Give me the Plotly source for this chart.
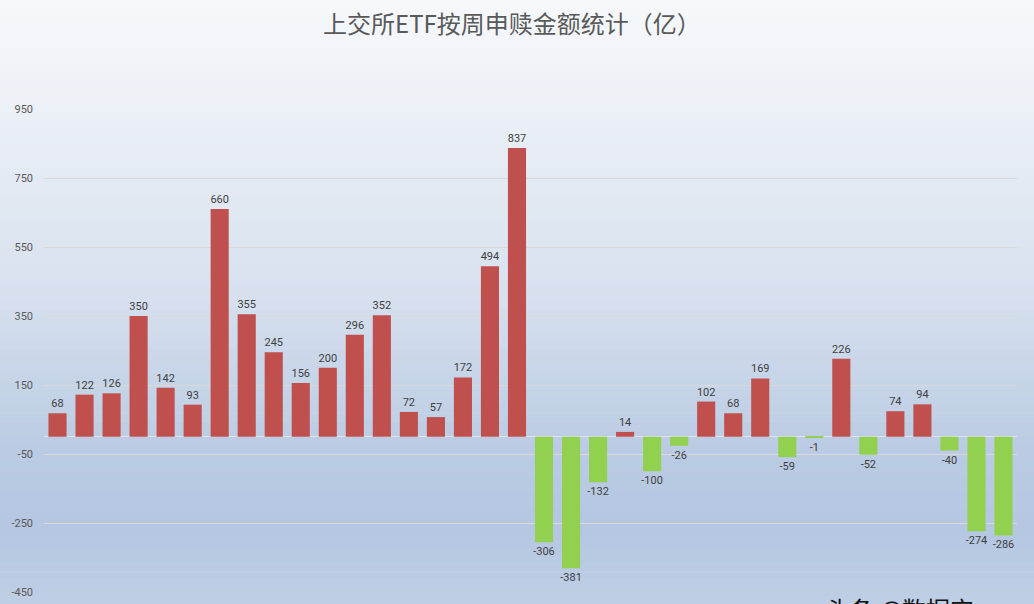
import plotly.graph_objects as go

# ---- data ----
weeks = [f"W{i+1}" for i in range(36)]
values = [68, 122, 126, 350, 142, 93, 660, 355, 245, 156, 200, 296, 352, 72, 57, 172, 494, 837,
          -306, -381, -132, 14, -100, -26, 102, 68, 169, -59, -1, 226, -52, 74, 94, -40, -274, -286]
tick_vals = [950, 750, 550, 350, 150, -50, -250, -450]
title_text = "上交所ETF按周申赎金额统计（亿）"
watermark = "头条 @数据宝"

POS = "#C0504D"
NEG = "#92D050"
colors = [POS if v >= 0 else NEG for v in values]

W, H = 1034, 604
L, R, T, B = 44, 17, 109, 12
pw, ph = W - L - R, H - T - B

fig = go.Figure()
fig.add_trace(go.Bar(
    x=weeks, y=values,
    marker=dict(color=colors, line=dict(width=0)),
    text=[str(v) for v in values],
    textposition="outside",
    constraintext="none",
    textfont=dict(family="Roboto, Arial", size=11, color="#404040"),
    cliponaxis=False,
    hoverinfo="x+y",
))

# background gradient (styling)
stops = [(0, (246, 248, 251)), (100, (237, 241, 247)), (300, (214, 224, 238)),
         (450, (186, 203, 227)), (530, (181, 199, 225)), (604, (190, 206, 229))]

def col_at(py):
    for (a, ca), (b, cb) in zip(stops[:-1], stops[1:]):
        if a <= py <= b:
            t = (py - a) / (b - a)
            return "rgb(%d,%d,%d)" % tuple(round(ca[k] + (cb[k] - ca[k]) * t) for k in range(3))
    return "rgb(%d,%d,%d)" % stops[-1][1]

shapes = []
n = 76
for i in range(n):
    y0p = H * i / n
    y1p = H * (i + 1) / n + 0.6
    shapes.append(dict(
        type="rect", xref="paper", yref="paper", layer="below",
        x0=-L / pw - 0.01, x1=1 + R / pw + 0.01,
        y0=(H - B - y1p) / ph, y1=(H - B - y0p) / ph,
        fillcolor=col_at((y0p + y1p) / 2), line=dict(width=0),
    ))

fig.update_layout(
    width=W, height=H,
    autosize=False,
    margin=dict(l=L, r=R, t=T, b=B, autoexpand=False),
    paper_bgcolor="#f0f3f8",
    plot_bgcolor="rgba(0,0,0,0)",
    shapes=shapes,
    bargap=0.33,
    showlegend=False,
    title=dict(text=title_text, x=512 / W, xanchor="center", xref="container",
               y=1 - 25 / H, yref="container", yanchor="middle",
               font=dict(family="Noto Sans CJK SC", size=24, color="#595959")),
    xaxis=dict(showticklabels=False, showgrid=False, zeroline=False, showline=False,
               ticks="", range=[-0.5, len(weeks) - 0.5], automargin=False),
    yaxis=dict(range=[-450, 950], tickvals=tick_vals, ticktext=[str(v) for v in tick_vals],
               showgrid=True, gridcolor="#d9d9d9", gridwidth=1,
               zeroline=True, zerolinecolor="#dfe4ea", zerolinewidth=1,
               showline=False, ticks="", ticklabelstandoff=10, automargin=False,
               tickfont=dict(family="Roboto, Arial", size=11, color="#595959")),
    annotations=[dict(
        text=watermark, xref="paper", yref="paper",
        x=(824 - L) / pw, y=(H - B - 589) / ph, xanchor="left", yanchor="top",
        showarrow=False,
        font=dict(family="Noto Sans CJK SC", size=24, color="#111111"),
    )],
)

fig.write_html("out.html", config={"displayModeBar": False},
               post_script="document.body.style.margin='0';document.body.style.overflow='hidden';")
